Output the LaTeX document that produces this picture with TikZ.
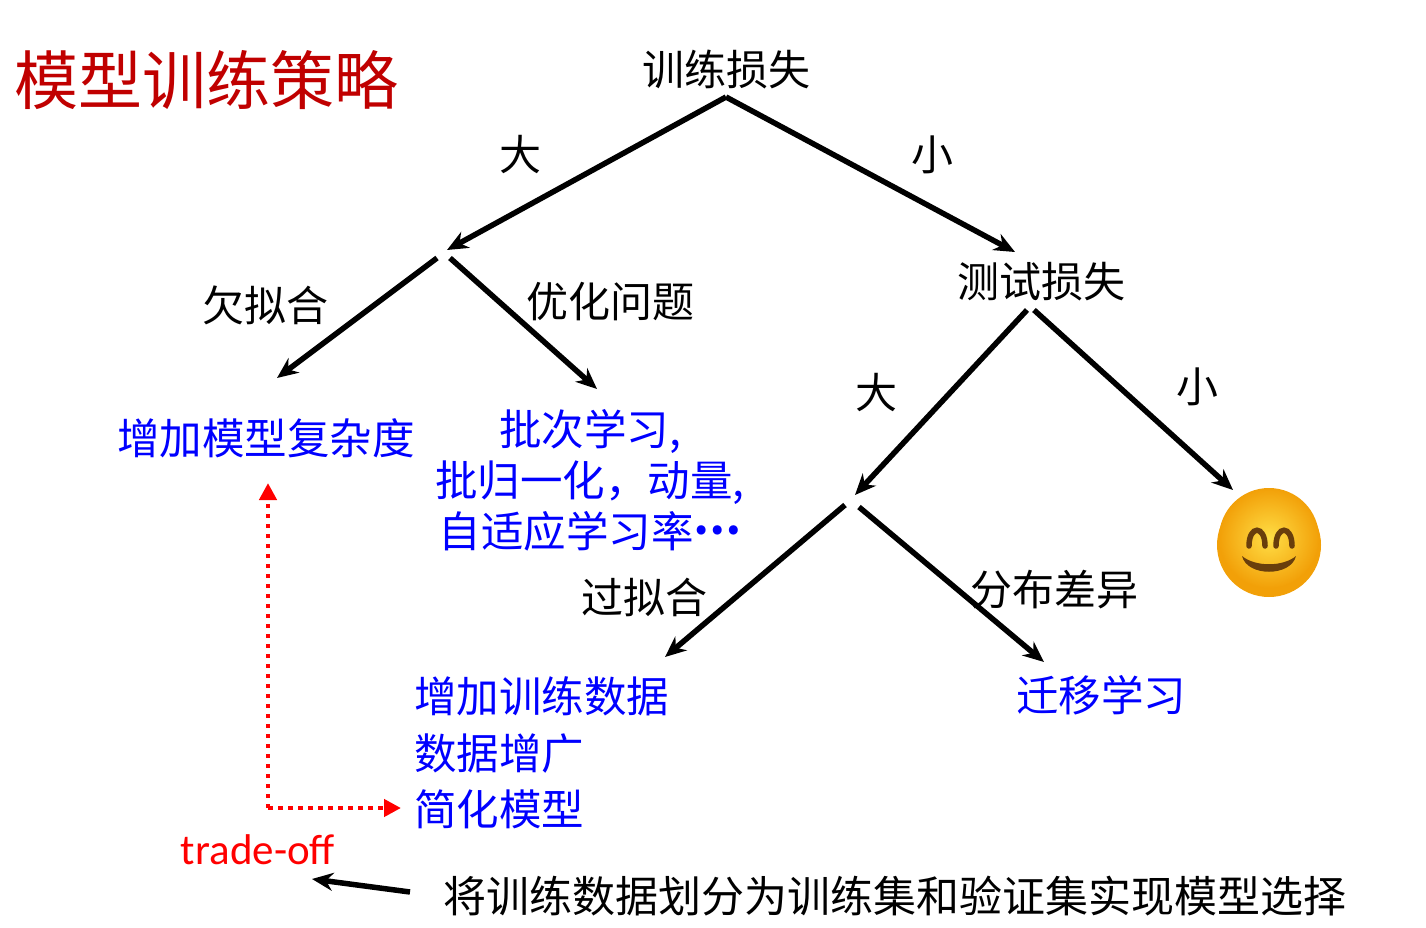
\documentclass[tikz,border=0pt]{standalone}
\usepackage{fontspec}
\setmainfont{Noto Sans CJK SC}
\newfontfamily\latinf{Carlito}
\usetikzlibrary{arrows.meta}
\definecolor{titlered}{RGB}{192,0,0}
\definecolor{tored}{RGB}{255,0,0}
\definecolor{facebrown}{RGB}{105,62,12}
\definecolor{faceyellow}{RGB}{255,222,70}
\definecolor{faceorange}{RGB}{242,160,8}
\newcommand{\middots}{\raisebox{0.3em}{\textbf{…}}}
\begin{document}
\begin{tikzpicture}[x=1pt,y=-1pt,
  lbl/.style={font=\fontsize{42}{48}\selectfont, text=black, inner sep=0pt},
  blu/.style={font=\fontsize{42.5}{51}\selectfont, text=blue, inner sep=0pt},
  conn/.style={line width=5.5pt, -{Stealth[length=21pt,width=18pt]}},
  tradeoff/.style={draw=tored, line width=4.5pt, dash pattern=on 4.5pt off 5.5pt, -{Triangle[length=17pt,width=17pt]}}
]
\useasboundingbox (0,0) rectangle (1426,928);

% texts
\node[inner sep=0pt, text=titlered, font=\fontsize{64}{70}\selectfont] (title) at (206,80) {模型训练策略};
\node[lbl] (root) at (726,70) {训练损失};
\node[lbl] (big1) at (520,155) {大};
\node[lbl] (small1) at (932,155) {小};
\node[lbl] (under) at (265,305) {欠拟合};
\node[lbl] (optim) at (610,302) {优化问题};
\node[blu] (complex) at (266,438) {增加模型复杂度};
\node[blu, align=center] (optlist) at (590,480) {批次学习,\\批归一化，动量,\\自适应学习率\middots};
\node[lbl] (test) at (1041,282) {测试损失};
\node[lbl] (big2) at (876,393) {大};
\node[lbl] (small2) at (1197,387) {小};
\node[lbl] (over) at (644,597) {过拟合};
\node[lbl] (shift) at (1054,590) {分布差异};
\node[blu, align=left, anchor=west, font=\fontsize{42.5}{56.5}\selectfont] (datalist) at (414,753) {增加训练数据\\数据增广\\简化模型};
\node[blu] (transfer) at (1101,695) {迁移学习};
\node[inner sep=0pt, text=tored, font=\latinf\fontsize{43}{48}\selectfont] (trade) at (258,850) {trade-off};
\node[lbl, anchor=west, font=\fontsize{43}{48}\selectfont] (split) at (443,896) {将训练数据划分为训练集和验证集实现模型选择};

% junction coordinates
\coordinate (r0) at (726,97);
\coordinate (j1) at (447,250);
\coordinate (t0) at (1015,252);
\coordinate (j1a) at (437,258);
\coordinate (j1b) at (450,258);
\coordinate (e1) at (277,378);
\coordinate (e2) at (597,389);
\coordinate (t1) at (1027,310);
\coordinate (t2) at (1034,310);
\coordinate (j2) at (855,495);
\coordinate (sm) at (1233,490);
\coordinate (j2a) at (845,505);
\coordinate (j2b) at (859,507);
\coordinate (e3) at (665,657);
\coordinate (e4) at (1044,662);
\coordinate (bs) at (410,892);
\coordinate (be) at (312,879);
\coordinate (rc) at (268,808);
\coordinate (rt) at (268,483);
\coordinate (rr) at (401,808);

% connectors
\draw[conn] (r0) -- (j1);
\draw[conn] (r0) -- (t0);
\draw[conn] (j1a) -- (e1);
\draw[conn] (j1b) -- (e2);
\draw[conn] (t1) -- (j2);
\draw[conn] (t2) -- (sm);
\draw[conn] (j2a) -- (e3);
\draw[conn] (j2b) -- (e4);
\draw[conn] (bs) -- (be);
\draw[tradeoff] (rc) -- (rt);
\draw[tradeoff] (rc) -- (rr);

% smiley
\coordinate (face) at (1269,545);
\fill[faceorange] (face) circle (52);
\shade[inner color=faceyellow, outer color=faceorange] (1269,538) circle (50);
\draw[facebrown, line width=5.5pt, line cap=round] (1249,546) .. controls (1249,525) and (1265,525) .. (1265,546);
\draw[facebrown, line width=5.5pt, line cap=round] (1276,546) .. controls (1276,525) and (1292,525) .. (1292,546);
\fill[facebrown] (1242,556) .. controls (1255,567) and (1283,567) .. (1296,556) .. controls (1291,577) and (1247,577) .. cycle;
\end{tikzpicture}
\end{document}
